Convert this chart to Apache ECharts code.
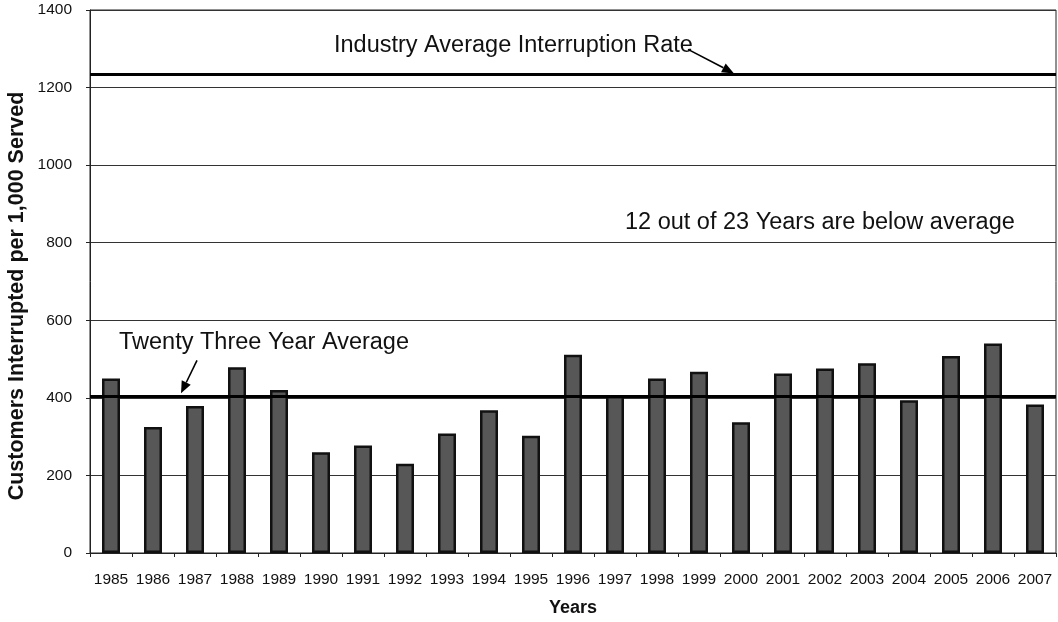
<!DOCTYPE html>
<html>
<head>
<meta charset="utf-8">
<script src="https://cdn.jsdelivr.net/npm/echarts@6/dist/echarts.min.js"></script>
<style>
  html, body { margin: 0; padding: 0; background: #fff; }
  #chart { width: 1058px; height: 622px; }
</style>
</head>
<body>
<div id="chart"></div>
<script>
const years = ['1985','1986','1987','1988','1989','1990','1991','1992','1993','1994','1995','1996',
               '1997','1998','1999','2000','2001','2002','2003','2004','2005','2006','2007'];
const interrupted = [450, 325, 379, 479, 420, 260, 277, 230, 308, 368, 302, 511,
                     405, 450, 467, 337, 463, 476, 489, 394, 508, 540, 383];
const yearAverage = 404;
const industryAverage = 1234;
const yTicks = { min: 0, max: 1400, interval: 200 };

const font = '"Liberation Sans", Arial, sans-serif';
const chart = echarts.init(document.getElementById('chart'));

const option = {
  backgroundColor: '#fff',
  animation: false,
  grid: { left: 90, right: 2, top: 10, bottom: 69, outerBoundsMode: 'none', containLabel: false,
          show: true, borderColor: '#222', borderWidth: 1 },
  xAxis: {
    type: 'category',
    data: years,
    name: 'Years',
    nameLocation: 'middle',
    nameGap: 46,
    nameTextStyle: { fontFamily: font, fontSize: 18, fontWeight: 'bold', color: '#111' },
    axisLine: { lineStyle: { color: '#222', width: 1 } },
    axisTick: { show: true, length: 4, lineStyle: { color: '#222' } },
    axisLabel: { fontFamily: font, fontSize: 15.5, color: '#111', margin: 19, interval: 0 }
  },
  yAxis: {
    type: 'value',
    min: yTicks.min, max: yTicks.max, interval: yTicks.interval,
    axisLine: { show: true, lineStyle: { color: '#222', width: 1 } },
    axisTick: { show: true, length: 4, lineStyle: { color: '#222' } },
    axisLabel: { fontFamily: font, fontSize: 15.5, color: '#111', margin: 18, formatter: v => String(v) },
    splitLine: { show: true, lineStyle: { color: '#333', width: 1 } }
  },
  series: [{
    type: 'bar',
    data: interrupted,
    barWidth: 18,
    itemStyle: { color: '#575757', borderColor: '#111', borderWidth: 2.5 },
    markLine: {
      silent: true,
      symbol: 'none',
      label: { show: false },
      lineStyle: { color: '#000', width: 3, type: 'solid' },
      data: [
        { yAxis: yearAverage },
        { yAxis: industryAverage }
      ]
    }
  }]
};
chart.setOption(option);

// annotations, anchored to the lines they point at
const yInd = chart.convertToPixel({ gridIndex: 0 }, [0, industryAverage])[1];
const yAvg = chart.convertToPixel({ gridIndex: 0 }, [0, yearAverage])[1];

function arrow(x1, y1, x2, y2) {
  const a = Math.atan2(y2 - y1, x2 - x1), L = 12, W = 5;
  const bx = x2 - L * Math.cos(a), by = y2 - L * Math.sin(a);
  return [
    { type: 'line', shape: { x1: x1, y1: y1, x2: bx, y2: by }, style: { stroke: '#000', lineWidth: 1.6 } },
    { type: 'polygon', shape: { points: [[x2, y2],
        [bx - W * Math.sin(a), by + W * Math.cos(a)],
        [bx + W * Math.sin(a), by - W * Math.cos(a)]] }, style: { fill: '#000' } }
  ];
}

function label(text, x, y) {
  return { type: 'text', x: x, y: y,
    style: { text: text, fontFamily: font, fontSize: 23.5, fill: '#111', verticalAlign: 'middle' } };
}

chart.setOption({
  graphic: [
    label('Industry Average Interruption Rate', 334, yInd - 29),
    label('Twenty Three Year Average', 119, yAvg - 54),
    label('12 out of 23 Years are below average', 625, 223),
    { type: 'text', x: 17, y: 296, rotation: Math.PI / 2,
      style: { text: 'Customers Interrupted per 1,000 Served', fontFamily: font, fontSize: 21.5,
               fontWeight: 'bold', fill: '#111', align: 'center', verticalAlign: 'middle' } }
  ].concat(arrow(688, yInd - 25, 734, yInd - 1), arrow(197, yAvg - 36, 181, yAvg - 3))
});
</script>
</body>
</html>
